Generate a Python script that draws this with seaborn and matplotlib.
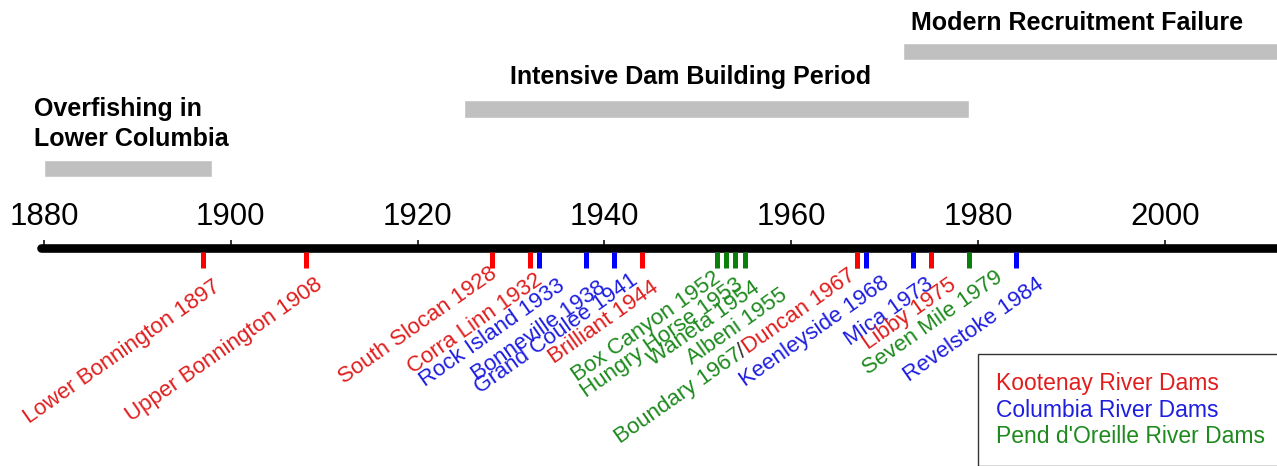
import numpy as np
import pandas as pd
import matplotlib
matplotlib.use('Agg')
import matplotlib.pyplot as plt
import seaborn as sns
from matplotlib.lines import Line2D

# Dams: name, year completed, river
dam_names = ['Lower Bonnington', 'Upper Bonnington', 'South Slocan', 'Corra Linn',
             'Rock Island', 'Bonneville', 'Grand Coulee', 'Brilliant',
             'Box Canyon', 'Hungry Horse', 'Waneta', 'Albeni', 'Boundary', 'Duncan',
             'Keenleyside', 'Mica', 'Libby', 'Seven Mile', 'Revelstoke']
dam_years = [1897, 1908, 1928, 1932, 1933, 1938, 1941, 1944, 1952, 1953, 1954, 1955,
             1967, 1967, 1968, 1973, 1975, 1979, 1984]
dam_rivers = ['Kootenay', 'Kootenay', 'Kootenay', 'Kootenay', 'Columbia', 'Columbia',
              'Columbia', 'Kootenay', "Pend d'Oreille", "Pend d'Oreille", "Pend d'Oreille",
              "Pend d'Oreille", "Pend d'Oreille", 'Kootenay', 'Columbia', 'Columbia',
              'Kootenay', "Pend d'Oreille", 'Columbia']

# Historical periods
period_names = ['Overfishing in\nLower Columbia', 'Intensive Dam Building Period',
                'Modern Recruitment Failure']
period_start = [1880, 1925, 1972]
period_end = [1898, 1979, 2013]

axis_years = [1880, 1900, 1920, 1940, 1960, 1980, 2000]
river_order = ['Kootenay', 'Columbia', "Pend d'Oreille"]
legend_labels = ['Kootenay River Dams', 'Columbia River Dams', "Pend d'Oreille River Dams"]

# layout (pixels)
label_offsets = [(9, 8), (9, 6), (-3, -5), (5, 1), (18, 7), (12, 9), (16, 2), (9, 9),
                 (-4, -1), (9, 6), (16, 9), (35, 16), None, (-9, -3),
                 (15, 4), (12, 6), (17, 6), (26, -1), (20, 6)]
period_y = [168.5, 109, 51.5]
period_text_dx = [-10, 46, 8]
period_text_y = [146, 84, 30]

tick_colors = {'Kootenay': '#ff0000', 'Columbia': '#0000ff', "Pend d'Oreille": '#0a800a'}
text_colors = {'Kootenay': '#e01e1e', 'Columbia': '#1e1ee0', "Pend d'Oreille": '#1e8a1e'}

df = pd.DataFrame({'dam': dam_names, 'year': dam_years, 'river': dam_rivers})

sns.set_theme(style='white')
plt.rcParams['font.family'] = ['Liberation Sans', 'DejaVu Sans']

W, H = 1277, 466
px_per_year = (1165 - 44) / 120
x0 = 1880 - 44 / px_per_year
def px_to_year(px):
    return x0 + px / px_per_year

fig = plt.figure(figsize=(W / 100, H / 100), dpi=100)
ax = fig.add_axes([0, 0, 1, 1])
ax.set_xlim(x0, px_to_year(W))
ax.set_ylim(H, 0)

# period bars
ax.barh(period_y, np.array(period_end) - np.array(period_start), left=period_start,
        height=17.5, color='#c0c0c0')
for name, start, dx, ty in zip(period_names, period_start, period_text_dx, period_text_y):
    ax.annotate(name, xy=(start, ty), xytext=(dx, 0), textcoords='offset pixels',
                ha='left', va='baseline', fontsize=18, fontweight='bold',
                color='black', linespacing=1.3)

# timeline axis
for s in ['left', 'right', 'bottom']:
    ax.spines[s].set_visible(False)
top = ax.spines['top']
top.set_position(('data', 248))
top.set_linewidth(6.2)
top.set_color('black')
top.set_bounds(px_to_year(41), px_to_year(W))
top.set_capstyle('round')
ax.xaxis.set_ticks_position('top')
ax.set_xticks(axis_years)
ax.tick_params(axis='x', top=True, bottom=False, labeltop=True, labelbottom=False,
               direction='out', length=5.8, width=1.1, pad=6, labelsize=22.5,
               colors='black')
ax.yaxis.set_visible(False)
ax.set_xlabel('')

# dam tick marks
sns.scatterplot(data=df, x='year', y=np.full(len(df), 260.0), hue='river',
                hue_order=river_order, palette=tick_colors, marker='|', s=133,
                linewidth=3.6, legend=False, ax=ax, zorder=3)
ax.set_xlim(x0, px_to_year(W))
ax.set_ylim(H, 0)

# dam labels
fig.canvas.draw()
renderer = fig.canvas.get_renderer()
ang = np.deg2rad(35)
label_kw = dict(textcoords='offset pixels', rotation=35, ha='right', va='top',
                rotation_mode='anchor', fontsize=16)
for i, (name, year, river, off) in enumerate(zip(dam_names, dam_years, dam_rivers,
                                                  label_offsets)):
    if off is None:
        continue
    dx, dy = off[0], -off[1]
    t = ax.annotate(f'{name} {year}', xy=(year, 268), xytext=(dx, dy),
                    color=text_colors[river], **label_kw)
    if i > 0 and label_offsets[i - 1] is None:
        # chain previous dam's label in front of this one
        prev = dam_names[i - 1]
        w, _, _ = renderer.get_text_width_height_descent(
            f'{name} {year}', t.get_fontproperties(), ismath=False)
        dx -= w * np.cos(ang)
        dy -= w * np.sin(ang)
        s = ax.annotate('/', xy=(year, 268), xytext=(dx, dy), color='#333333', **label_kw)
        w, _, _ = renderer.get_text_width_height_descent('/', s.get_fontproperties(),
                                                         ismath=False)
        dx -= w * np.cos(ang)
        dy -= w * np.sin(ang)
        ax.annotate(f'{prev} {dam_years[i - 1]}', xy=(year, 268), xytext=(dx, dy),
                    color=text_colors[dam_rivers[i - 1]], **label_kw)

# legend
handles = [Line2D([], [], linestyle='none') for _ in legend_labels]
leg = ax.legend(handles, legend_labels, labelcolor=[text_colors[r] for r in river_order],
                loc='upper left', bbox_to_anchor=(px_to_year(978), 354),
                bbox_transform=ax.transData, handlelength=0, handletextpad=0,
                borderpad=0.8, labelspacing=0.14, fontsize=16.5, frameon=True,
                fancybox=False, edgecolor='#333333', framealpha=1, borderaxespad=0)
leg.get_frame().set_linewidth(1.0)

fig.savefig('out.png', dpi=100)
